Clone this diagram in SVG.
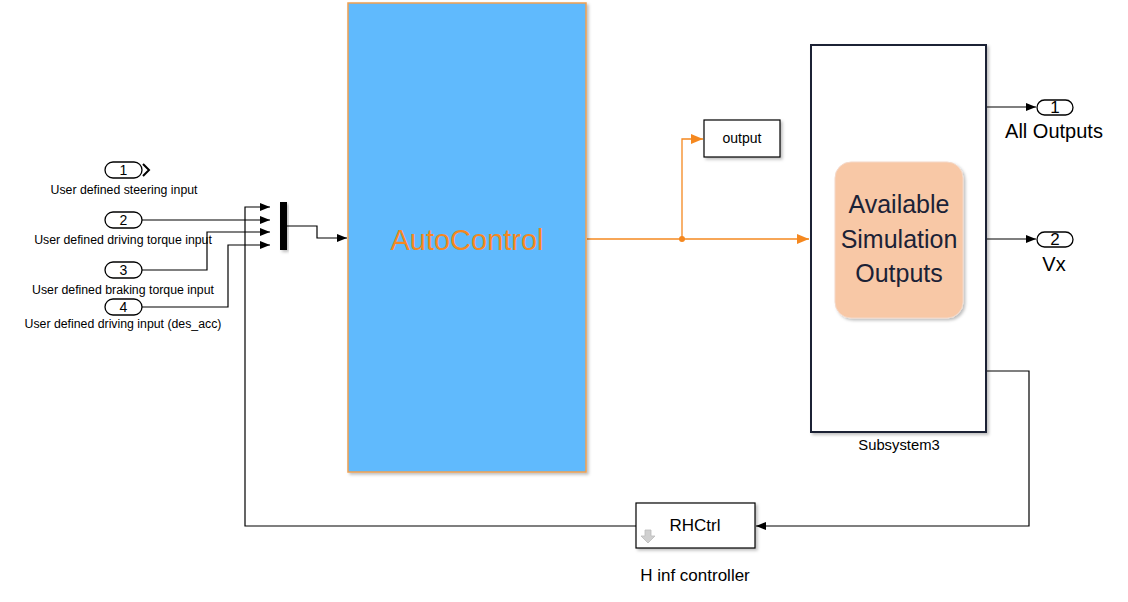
<svg xmlns="http://www.w3.org/2000/svg" width="1128" height="602" viewBox="0 0 1128 602">
<defs>
<marker id="ah" markerWidth="10" markerHeight="8" refX="10" refY="4" orient="auto" markerUnits="userSpaceOnUse"><path d="M0,0 L10,4 L0,8 Z" fill="#000"/></marker>
<marker id="aho" markerWidth="12" markerHeight="10" refX="12" refY="5" orient="auto" markerUnits="userSpaceOnUse"><path d="M0,0 L12,5 L0,10 Z" fill="#F5881F"/></marker>
<filter id="sh" x="-10%" y="-10%" width="130%" height="130%"><feDropShadow dx="2" dy="2" stdDeviation="1.5" flood-color="#000" flood-opacity="0.25"/></filter>
</defs>
<style>
text{font-family:"Liberation Sans",Arial,sans-serif;fill:#000}
.port{fill:#fff;stroke:#000;stroke-width:1.3}
.num{font-size:14px;text-anchor:middle}
.lbl{font-size:12.3px;text-anchor:middle}
.w{fill:none;stroke:#000;stroke-width:1.2}
.wo{fill:none;stroke:#F5881F;stroke-width:1.3}
</style>
<rect width="1128" height="602" fill="#fff"/>

<g id="connectors">
<polyline class="w" points="142,220 270,220" marker-end="url(#ah)"/>
<polyline class="w" points="142,270 207,270 207,232 270,232" marker-end="url(#ah)"/>
<polyline class="w" points="142,307 228,307 228,245 270,245" marker-end="url(#ah)"/>
<polyline class="w" points="636,526 245,526 245,207 270,207" marker-end="url(#ah)"/>
<polyline class="w" points="287,226 317,226 317,238 347,238" marker-end="url(#ah)"/>
<polyline class="wo" points="587,239 809,239" marker-end="url(#aho)"/>
<polyline class="wo" points="682,239 682,139 703,139" marker-end="url(#aho)"/>
<circle cx="682" cy="239" r="3" fill="#F5881F"/>
<polyline class="w" points="987,107 1036,107" marker-end="url(#ah)"/>
<polyline class="w" points="987,239 1036,239" marker-end="url(#ah)"/>
<polyline class="w" points="987,371 1029,371 1029,526 756,526" marker-end="url(#ah)"/>
</g>

<g id="in1">
<rect class="port" x="105" y="162" width="37" height="16" rx="8"/>
<text class="num" x="123.5" y="175">1</text>
<polyline points="143,164 149,170 143,176" fill="none" stroke="#000" stroke-width="2"/>
<text class="lbl" x="124" y="194">User defined steering input</text>
</g>
<g id="in2">
<rect class="port" x="105" y="212" width="37" height="16" rx="8"/>
<text class="num" x="123.5" y="225">2</text>
<text class="lbl" x="123" y="244">User defined driving torque input</text>
</g>
<g id="in3">
<rect class="port" x="105" y="262" width="37" height="16" rx="8"/>
<text class="num" x="123.5" y="275">3</text>
<text class="lbl" x="123" y="294">User defined braking torque input</text>
</g>
<g id="in4">
<rect class="port" x="105" y="299" width="37" height="16" rx="8"/>
<text class="num" x="123.5" y="312">4</text>
<text class="lbl" x="123" y="328">User defined driving input (des_acc)</text>
</g>

<g id="mux">
<rect x="280" y="202" width="7" height="48" fill="#000" filter="url(#sh)"/>
</g>

<g id="autocontrol">
<rect x="348" y="3" width="238" height="469" fill="#60BAFD" stroke="#F0A050" stroke-width="1.5" filter="url(#sh)"/>
<text x="467" y="250" font-size="29" text-anchor="middle" style="fill:#F5881F">AutoControl</text>
</g>

<g id="output">
<rect x="704" y="120" width="76" height="37" fill="#fff" stroke="#000" stroke-width="1.2" filter="url(#sh)"/>
<text x="742" y="143" font-size="14" text-anchor="middle">output</text>
</g>

<g id="subsystem3">
<rect x="811" y="45" width="175" height="387" fill="#fff" stroke="#1B2236" stroke-width="2" filter="url(#sh)"/>
<rect x="835" y="162" width="128" height="156" rx="16" fill="#F8C8A6" stroke="#F4D8C8" stroke-width="1" filter="url(#sh)"/>
<text x="899" y="213" font-size="25" text-anchor="middle" style="fill:#1B2236">Available</text>
<text x="899" y="248" font-size="25" text-anchor="middle" style="fill:#1B2236">Simulation</text>
<text x="899" y="282" font-size="25" text-anchor="middle" style="fill:#1B2236">Outputs</text>
<text x="899" y="450" font-size="14.8" text-anchor="middle">Subsystem3</text>
</g>

<g id="out1">
<rect class="port" x="1037" y="100" width="36" height="15" rx="7.5"/>
<text class="num" x="1055" y="113" style="font-size:17px">1</text>
<text x="1054" y="138" font-size="20" text-anchor="middle">All Outputs</text>
</g>
<g id="out2">
<rect class="port" x="1037" y="232" width="36" height="15" rx="7.5"/>
<text class="num" x="1055" y="245" style="font-size:17px">2</text>
<text x="1054" y="271" font-size="20" text-anchor="middle">Vx</text>
</g>

<g id="rhctrl">
<rect x="636" y="503" width="119" height="45" fill="#fff" stroke="#000" stroke-width="1.2" filter="url(#sh)"/>
<text x="695" y="531" font-size="17" text-anchor="middle">RHCtrl</text>
<path d="M645,530 h6 v6 h4 l-7,7 l-7,-7 h4 Z" fill="#D0D0D0" stroke="#BBBBBB" stroke-width="0.8"/>
<text x="695" y="581" font-size="17" text-anchor="middle">H inf controller</text>
</g>
</svg>
